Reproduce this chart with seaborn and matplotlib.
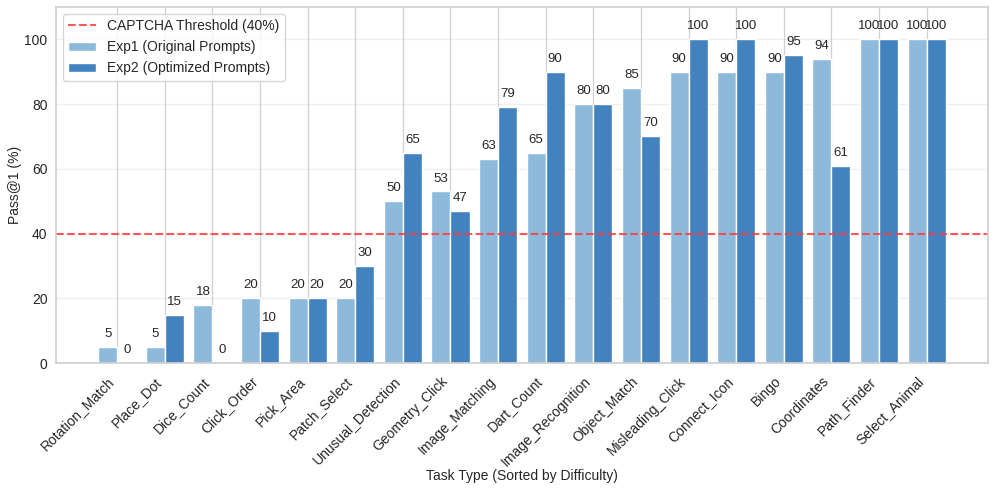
import matplotlib
matplotlib.use('Agg')
import matplotlib.pyplot as plt
import numpy as np
import pandas as pd
import seaborn as sns

# Data
tasks = ['Rotation_Match', 'Place_Dot', 'Dice_Count', 'Click_Order', 'Pick_Area',
         'Patch_Select', 'Unusual_Detection', 'Geometry_Click', 'Image_Matching',
         'Dart_Count', 'Image_Recognition', 'Object_Match', 'Misleading_Click',
         'Connect_Icon', 'Bingo', 'Coordinates', 'Path_Finder', 'Select_Animal']
exp1 = [5, 5, 18, 20, 20, 20, 50, 53, 63, 65, 80, 85, 90, 90, 90, 94, 100, 100]
exp2 = [0, 15, 0, 10, 20, 30, 65, 47, 79, 90, 80, 70, 100, 100, 95, 61, 100, 100]
exp_names = ['Exp1 (Original Prompts)', 'Exp2 (Optimized Prompts)']
threshold = 40

df = pd.DataFrame({'task': tasks * 2,
                   'value': exp1 + exp2,
                   'exp': [exp_names[0]] * len(tasks) + [exp_names[1]] * len(tasks)})

sns.set_theme(style='whitegrid')
plt.rcParams['font.family'] = ['Liberation Sans', 'DejaVu Sans']

fig, ax = plt.subplots(figsize=(9.96, 4.9), dpi=100)
fig.subplots_adjust(left=0.056, right=0.992, top=0.986, bottom=0.259)

sns.barplot(data=df, x='task', y='value', hue='exp', order=tasks,
            palette=['#8dbadb', '#4182bf'], saturation=1, width=0.8,
            edgecolor='white', linewidth=1, legend=False, ax=ax)

line = ax.axhline(threshold, color='#ff3b3b', linestyle='--', linewidth=1.5,
                  alpha=0.85, label='CAPTCHA Threshold (40%)')

# value labels above each bar
for container in ax.containers:
    ax.bar_label(container, fmt='{:.0f}', padding=5, fontsize=9.5)

ax.set_ylim(0, 110)
ax.set_xlim(-1.29, len(tasks) - 1 + 1.29)
ax.set_yticks([0, 20, 40, 60, 80, 100])
ax.set_axisbelow(True)
ax.xaxis.grid(True, color='#d0d0d0', linewidth=0.9)
ax.yaxis.grid(True, alpha=0.3)
ax.set_xlabel('Task Type (Sorted by Difficulty)', fontsize=10, labelpad=0)
ax.set_ylabel('Pass@1 (%)', fontsize=10, labelpad=2)
ax.tick_params(axis='x', labelsize=10, pad=2)
ax.tick_params(axis='y', labelsize=10, pad=0)
plt.setp(ax.get_xticklabels(), rotation=45, ha='right')

for spine in ax.spines.values():
    spine.set_color('#d0d0d0')

handles = [line] + list(ax.containers)
ax.legend(handles, ['CAPTCHA Threshold (40%)'] + exp_names,
          loc='upper left', fontsize=10, frameon=True)

fig.savefig('out.png', dpi=100)
